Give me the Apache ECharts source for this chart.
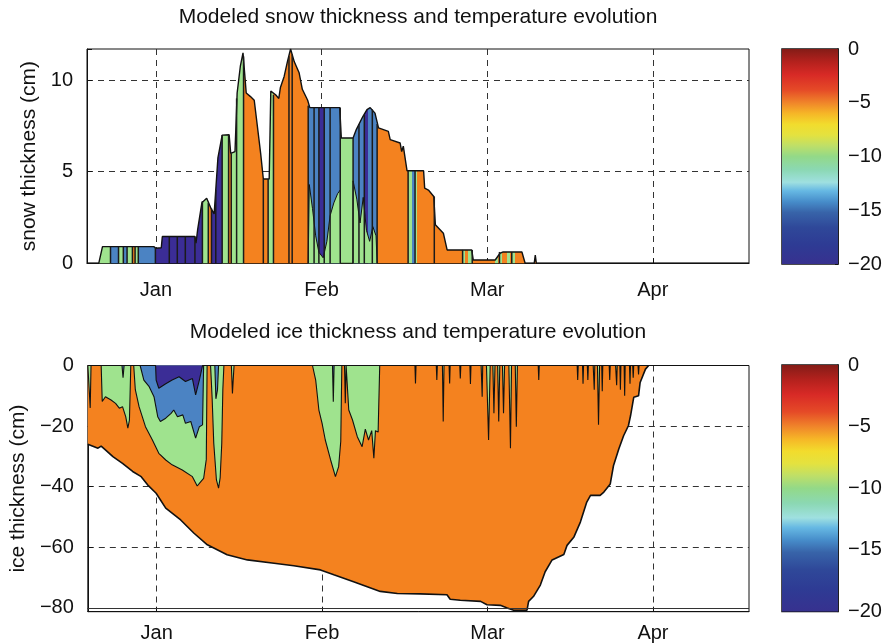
<!DOCTYPE html>
<html><head><meta charset="utf-8">
<script src="https://cdn.jsdelivr.net/npm/echarts@6/dist/echarts.min.js"></script>
<style>html,body{margin:0;padding:0;background:#fff}#c{width:885px;height:644px}</style>
</head><body><div id="c"></div>
<script>
// ---------- data (x = days after the "Jan" tick; ticks every 31 days) ----------
const monthNames = ['Jan', 'Feb', 'Mar', 'Apr'];
const monthTicks = [0, 31, 62, 93];
const snowTicks = [0, 5, 10];
const iceTicks = [-80, -60, -40, -20, 0];
const cbarTicks = [-20, -15, -10, -5, 0];

// snow thickness envelope (cm)
const snowDay = [-12.9, -10.7, -10.0, -0.4, 0.0, 1.0, 1.2, 7.3, 7.5, 7.8, 8.6, 9.5, 10.3, 10.9, 11.6, 12.4, 13.7, 14.0, 14.8, 15.2, 15.8, 16.3, 16.9, 17.7, 18.4, 19.6, 20.1, 21.2, 21.5, 22.4, 23.0, 23.3, 24.0, 24.6, 25.2, 25.9, 26.8, 27.4, 28.4, 28.8, 34.4, 34.7, 36.9, 37.5, 38.7, 39.5, 40.1, 41.0, 41.66, 43.5, 43.85, 45.7, 46.0, 46.3, 47.0, 50.1, 50.3, 51.0, 52.0, 52.3, 53.8, 54.5, 59.1, 59.4, 63.5, 64.4, 65.0, 68.5, 69.1, 70.8, 71.0, 71.2, 111];
const snowCm = [0, 0, 0.91, 0.91, 0.82, 0.85, 1.46, 1.46, 1.1, 1.82, 3.3, 3.55, 3.0, 2.7, 5.75, 7.0, 7.02, 6.0, 6.1, 9.3, 10.76, 11.49, 9.3, 9.1, 8.9, 6.0, 4.6, 4.6, 9.4, 9.2, 9.0, 9.6, 10.2, 11.0, 11.7, 11.0, 10.4, 9.5, 8.9, 8.5, 8.5, 6.84, 6.84, 7.3, 8.0, 8.39, 8.5, 8.2, 7.39, 7.2, 6.75, 6.57, 6.1, 6.4, 5.05, 5.05, 4.1, 4.0, 3.65, 2.1, 1.64, 0.73, 0.73, 0.18, 0.18, 0.55, 0.62, 0.62, 0, 0, 0.45, 0, 0];

// temperature class of snow column between successive edges
const stripeEdges = [-13, -8.5, -7.0, -6.1, -5.4, -4.4, -3.9, -3.3, -0.1, 8.7, 9.8, 10.4, 12.4, 13.6, 14.1, 16.4, 21.0, 22.0, 28.5, 30.5, 31.5, 34.5, 36.9, 39.0, 39.6, 41.4, 47.2, 48.0, 48.5, 48.9, 57.4, 57.9, 58.4, 59.2, 63.5, 64.0, 64.3, 64.8, 65.7, 66.2, 66.6, 67.2, 111];
const stripeClass = ['G','B','G','B','G','O','G','B','I','G','O','I','G','O','G','O','G','O','B','I','B','G','B','I','B','O','G','B','G','O','G','O','G','O','G','O','G','O','G','O','G','O'];

// warmer (green) bottom layer under the cold snow surface
const snowLayerDay = [28.5, 28.7, 29.3, 29.9, 30.5, 31.3, 32.0, 32.6, 33.3, 34.0, 34.5, 34.55, 36.85, 36.9, 37.6, 38.2, 38.8, 39.4, 40.0, 40.6, 41.2, 41.4];
const snowLayerCm = [0, 4.3, 3.0, 1.5, 0.6, 0.3, 1.2, 2.6, 3.3, 3.8, 4.0, 0, 0, 4.5, 3.5, 2.2, 3.6, 1.8, 1.2, 2.0, 1.5, 0];

// isotherm contour edges inside the snow (day, cm)
const edgeDay = [-8.5, -7.0, -6.1, -5.4, -4.4, -3.9, -3.3, -0.1, 2.5, 4.0, 5.5, 7.3, 8.7, 9.8, 10.4, 11.2, 12.4, 13.6, 14.1, 15.1, 16.4, 20.1, 21.0, 22.0, 24.9, 25.5, 28.5, 29.6, 30.5, 31.5, 32.6, 34.5, 36.9, 38.0, 39.0, 40.5, 41.4, 47.2, 48.5, 52.1, 57.4, 59.2, 64.3, 66.6];
const edgeCm = [0.91, 0.91, 0.91, 0.91, 0.91, 0.91, 0.91, 0.85, 1.46, 1.46, 1.46, 1.46, 3.4, 3.3, 3.0, 4.0, 7.0, 7.0, 6.0, 9.0, 11.3, 4.6, 4.6, 9.2, 11.3, 11.4, 8.6, 8.5, 8.5, 8.5, 8.5, 8.5, 6.84, 7.6, 8.1, 8.4, 7.6, 5.05, 5.05, 3.65, 0.73, 0.73, 0.62, 0.62];

// ice bottom (cm, negative downward)
const iceDay = [-12.9, -12.6, -11.0, -10.4, -9.5, -8.2, -6.4, -4.5, -2.9, -1.7, -0.1, 1.7, 4.5, 7.0, 9.5, 13.2, 17.0, 22.0, 25.7, 30.7, 33.2, 36.9, 41.9, 45.1, 49.4, 54.4, 55.0, 56.9, 60.7, 61.9, 64.4, 65.7, 66.9, 69.4, 69.7, 70.6, 71.9, 72.8, 74.1, 76.3, 76.9, 78.2, 79.4, 80.6, 81.3, 83.1, 83.8, 85.0, 85.6, 86.6, 87.5, 88.4, 88.8, 89.4, 90.3, 90.6, 91.6, 92.2];
const iceCm = [-26.0, -26.2, -27.3, -26.6, -28.0, -30.1, -32.3, -35.0, -36.7, -39.4, -42.2, -47.1, -51.0, -55.4, -59.2, -62.5, -64.2, -65.3, -66.1, -67.5, -69.1, -71.4, -74.6, -75.3, -75.4, -75.7, -77.2, -77.5, -77.9, -79.0, -79.2, -80.1, -80.8, -80.8, -77.9, -76.3, -72.5, -68.1, -64.2, -62.4, -59.4, -56.6, -51.7, -45.1, -42.9, -42.9, -41.8, -39.1, -33.1, -27.6, -23.2, -19.9, -16.6, -10.5, -10.0, -5.6, -1.2, 0];

// depth of isotherms inside the ice (day, cm)
const greenIce = [[-12.9,0],[-12.6,0],[-12.45,-14],[-12.3,0],[-10.4,0],[-10.2,-11.9],[-9.6,-10.3],[-8.55,-11.4],[-7.7,-12.5],[-7.0,-14.1],[-6.4,-13.6],[-5.8,-16.9],[-5.4,-20.7],[-5.1,-18.0],[-4.85,0],
 [-4.3,0],[-4.0,-8],[-3.3,-13.6],[-2.1,-20.2],[-0.8,-24.6],[0.4,-29.0],[1.7,-31.2],[2.9,-32.8],[4.8,-34.5],[6.7,-36.7],[7.6,-39.8],[8.2,-38.5],[8.8,-37.3],[9.3,-31.0],[9.45,0],
 [10.1,0],[10.4,-11],[10.7,-25.7],[11.2,-37.8],[11.6,-40.5],[11.9,-37.0],[12.2,-25.7],[12.4,-8],[12.6,0],
 [14.0,0],[14.2,-9.2],[14.5,0],
 [29.2,0],[29.8,-4.8],[30.4,-14.7],[31.0,-19.1],[31.6,-24.6],[32.6,-31.2],[33.5,-36.7],[34.1,-33.4],[34.5,-25],[34.7,0],
 [35.2,0],[35.35,-12.5],[35.5,0],
 [35.7,0],[36.0,-14.7],[36.7,-18],[37.6,-23.5],[38.5,-26.8],[39.1,-21],[39.7,-24.6],[40.3,-21.5],[40.7,-30.6],[41.0,-21.5],[41.5,-22],[41.8,0],
 [48.4,0],[48.5,-5.9],[48.6,0],[52.4,0],[52.5,-4.8],[52.6,0],[53.55,0],[53.7,-18.5],[53.85,0],[54.8,0],[54.9,-5.9],[55.0,0],
 [56.8,0],[56.9,-4.3],[57.0,0],[58.7,0],[58.8,-6.1],[58.9,0],[60.8,0],[61.0,-10.3],[61.1,0],[61.8,0],[62.2,-24.6],[62.5,0],
 [63.0,0],[63.2,-15.8],[63.4,0],[63.9,0],[64.1,-18.5],[64.3,0],[64.8,0],[65.0,-15.8],[65.2,0],[66.0,0],[66.3,-27.3],[66.5,0],
 [67.2,0],[67.4,-20.2],[67.6,0],[71.5,0],[71.6,-4.8],[71.7,0],[78.8,0],[78.9,-4.8],[79.0,0],[79.8,0],[79.9,-6],[80.0,0],
 [80.7,0],[80.8,-4.8],[80.9,0],[81.8,0],[82.0,-8],[82.1,0],[82.6,0],[82.8,-19.6],[83.0,0],[83.4,0],[83.5,-8.5],[83.6,0],
 [84.8,0],[84.9,-4.8],[85.0,0],[86.0,0],[86.2,-6.5],[86.3,0],[86.8,0],[86.9,-8],[87.0,0],[87.6,0],[87.7,-10],[87.8,0],
 [88.6,0],[88.7,-6],[88.8,0],[89.2,0],[89.3,-4],[89.4,0],[90.2,0],[90.3,-3],[90.4,0],[111,0]];
const blueIce = [[-12.9,0],[-6.5,0],[-6.3,-4],[-6.1,0],[-3.1,0],[-2.4,-4.8],[-1.4,-7.0],[-0.5,-10.3],[0.2,-16.9],[0.7,-18.5],[1.7,-17.4],[2.7,-15.8],[3.2,-14.7],[3.9,-16.9],[4.9,-16.3],[5.4,-19.1],[6.4,-18.5],[7.3,-24.0],[8.0,-20.2],[8.6,-19.6],[8.8,0],
 [10.9,0],[11.1,-11],[11.4,-8],[11.6,0],[32.95,0],[33.1,-12],[33.25,0],[111,0]];
const indigoIce = [[-12.9,0],[-0.2,0],[-0.1,-4.8],[0.4,-7.5],[1.7,-6.0],[2.9,-4.8],[4.2,-3.7],[5.4,-5.3],[6.7,-4.3],[7.3,-9.7],[8.0,-4.8],[8.6,0],[111,0]];

// ---------- styling ----------
const FONT = '"Liberation Sans", Arial, Helvetica, sans-serif';
const CLS = {O: '#f4821f', G: '#9fe38e', B: '#4b83c3', I: '#3b2d96'};
const INK = '#111';
const LBL = 20, TXT = 21;
const zip = (a, b) => a.map((v, i) => [v, b[i]]);
const minus = v => (v < 0 ? '\u2212' + (-v) : String(v));

const pieces = stripeClass.map((c, i) => ({gte: stripeEdges[i], lt: stripeEdges[i + 1], color: CLS[c]}));

const cbarGradient = new echarts.graphic.LinearGradient(0, 0, 0, 1, [
  {offset: 0, color: '#841c17'}, {offset: 0.06, color: '#b4211d'}, {offset: 0.12, color: '#d82a26'},
  {offset: 0.19, color: '#e54a27'}, {offset: 0.25, color: '#f0852a'}, {offset: 0.3, color: '#f6b627'},
  {offset: 0.35, color: '#f2dc2d'}, {offset: 0.4, color: '#e4e23f'}, {offset: 0.45, color: '#bedf68'},
  {offset: 0.5, color: '#93d988'}, {offset: 0.56, color: '#8bd8b2'}, {offset: 0.62, color: '#9fe0e0'},
  {offset: 0.66, color: '#66b8e3'}, {offset: 0.71, color: '#478dca'}, {offset: 0.76, color: '#3864a9'},
  {offset: 0.83, color: '#2f4899'}, {offset: 0.91, color: '#2e3b94'}, {offset: 1, color: '#37318f'}
]);

function xAxis(gi, margin) {
  return {
    type: 'value', gridIndex: gi, min: -12.9, max: 111, minInterval: 31, maxInterval: 31,
    axisLine: {show: true, onZero: false, lineStyle: {color: INK, width: 1}},
    axisTick: {show: true, inside: true, length: 5, lineStyle: {color: INK}},
    axisLabel: {
      fontSize: LBL, color: INK, fontFamily: FONT, margin: margin, showMinLabel: false, showMaxLabel: false,
      formatter: v => { const k = monthTicks.indexOf(Math.round(v)); return (k >= 0 && Math.abs(v - monthTicks[k]) < 1e-6) ? monthNames[k] : ''; }
    },
    splitLine: {show: true, showMinLine: false, showMaxLine: false, lineStyle: {type: [6, 5], color: '#333', width: 1}}
  };
}
function yAxis(gi, min, max, step, ticks, name, gap) {
  return {
    type: 'value', gridIndex: gi, min: min, max: max, minInterval: step, maxInterval: step,
    name: name, nameLocation: 'middle', nameGap: gap,
    nameTextStyle: {fontSize: TXT, color: INK, fontFamily: FONT},
    axisLine: {show: true, onZero: false, lineStyle: {color: INK, width: 1}},
    axisTick: {show: true, inside: true, length: 5, lineStyle: {color: INK}},
    axisLabel: {fontSize: LBL, color: INK, fontFamily: FONT, margin: 14,
      formatter: v => (ticks.some(t => Math.abs(t - v) < 1e-6) ? minus(Math.round(v)) : '')},
    splitLine: {show: true, showMinLine: false, showMaxLine: false, lineStyle: {type: [6, 5], color: '#333', width: 1}}
  };
}
function cbarY(gi) {
  return {
    type: 'value', gridIndex: gi, position: 'right', min: -20, max: 0, interval: 5,
    axisLine: {show: true, lineStyle: {color: INK, width: 1.5}},
    axisTick: {show: true, inside: true, length: 3, lineStyle: {color: INK}},
    axisLabel: {fontSize: LBL, color: INK, fontFamily: FONT, margin: 10,
      formatter: v => (cbarTicks.indexOf(v) >= 0 ? minus(v) : '')},
    splitLine: {show: false}
  };
}
function cbarX(gi) {
  return {type: 'category', gridIndex: gi, data: ['T'], show: false, boundaryGap: true};
}

const option = {
  animation: false,
  backgroundColor: '#ffffff',
  title: [
    {text: 'Modeled snow thickness and temperature evolution', left: 418, top: 7, textAlign: 'center', padding: 0,
      textStyle: {fontSize: TXT, fontWeight: 'normal', color: INK, fontFamily: FONT}},
    {text: 'Modeled ice thickness and temperature evolution', left: 418, top: 322, textAlign: 'center', padding: 0,
      textStyle: {fontSize: TXT, fontWeight: 'normal', color: INK, fontFamily: FONT}}
  ],
  grid: [
    {left: 87, top: 49, width: 662, height: 214.3, show: true, borderColor: INK, borderWidth: 1, backgroundColor: 'transparent'},
    {left: 87, top: 365.5, width: 662, height: 246.2, show: true, borderColor: INK, borderWidth: 1, backgroundColor: 'transparent'},
    {left: 782, top: 49, width: 56, height: 215, show: true, borderColor: INK, borderWidth: 1.5},
    {left: 782, top: 365, width: 56, height: 246.5, show: true, borderColor: INK, borderWidth: 1.5}
  ],
  xAxis: [xAxis(0, 17), xAxis(1, 12), cbarX(2), cbarX(3)],
  yAxis: [
    yAxis(0, 0, 11.7, 5, snowTicks, 'snow thickness (cm)', 32),
    yAxis(1, -81.3, 0, 20, iceTicks, 'ice thickness (cm)', 54),
    cbarY(2), cbarY(3)
  ],
  visualMap: [{type: 'piecewise', show: false, dimension: 0, seriesIndex: 0, pieces: pieces, outOfRange: {color: CLS.O}}],
  series: [
    {type: 'line', xAxisIndex: 0, yAxisIndex: 0, data: zip(snowDay, snowCm), symbol: 'none', z: 2,
      lineStyle: {color: INK, width: 1.4}, areaStyle: {opacity: 1}},
    {type: 'line', xAxisIndex: 0, yAxisIndex: 0, data: zip(snowLayerDay, snowLayerCm), symbol: 'none', z: 3,
      lineStyle: {color: INK, width: 1}, areaStyle: {color: CLS.G, opacity: 1}},
    {type: 'bar', xAxisIndex: 0, yAxisIndex: 0, data: zip(edgeDay, edgeCm), barWidth: 1.5, z: 4,
      itemStyle: {color: '#1b1b1b'}},
    {type: 'line', xAxisIndex: 1, yAxisIndex: 1, data: zip(iceDay, iceCm), symbol: 'none', z: 2,
      lineStyle: {color: INK, width: 1.6}, areaStyle: {color: CLS.O, opacity: 1},
      markLine: {silent: true, symbol: 'none', label: {show: false}, lineStyle: {type: 'solid', color: '#333', width: 1},
        data: [{yAxis: -80}]}},
    {type: 'line', xAxisIndex: 1, yAxisIndex: 1, data: greenIce, symbol: 'none', z: 3,
      lineStyle: {color: INK, width: 1.1}, areaStyle: {color: CLS.G, opacity: 1}},
    {type: 'line', xAxisIndex: 1, yAxisIndex: 1, data: blueIce, symbol: 'none', z: 4,
      lineStyle: {color: INK, width: 1.1}, areaStyle: {color: CLS.B, opacity: 1}},
    {type: 'line', xAxisIndex: 1, yAxisIndex: 1, data: indigoIce, symbol: 'none', z: 5,
      lineStyle: {color: INK, width: 1.1}, areaStyle: {color: CLS.I, opacity: 1}},
    {type: 'bar', xAxisIndex: 2, yAxisIndex: 2, data: [cbarTicks[0]], barWidth: '100%', itemStyle: {color: cbarGradient}},
    {type: 'bar', xAxisIndex: 3, yAxisIndex: 3, data: [cbarTicks[0]], barWidth: '100%', itemStyle: {color: cbarGradient}}
  ]
};
const chart = echarts.init(document.getElementById('c'), null, {renderer: 'canvas'});
chart.setOption(option);
</script></body></html>
